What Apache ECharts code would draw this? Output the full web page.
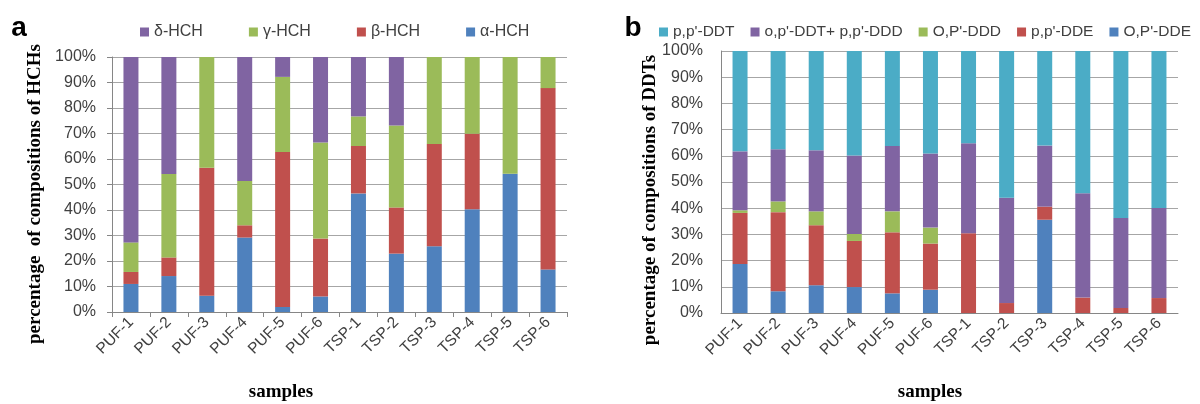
<!DOCTYPE html>
<html><head><meta charset="utf-8">
<script src="https://cdn.jsdelivr.net/npm/echarts@6/dist/echarts.min.js"></script>
<style>html,body{margin:0;padding:0;background:#fff}#c{width:1200px;height:404px}</style>
</head><body><div id="c"></div>
<script>
const samples = ['PUF-1','PUF-2','PUF-3','PUF-4','PUF-5','PUF-6','TSP-1','TSP-2','TSP-3','TSP-4','TSP-5','TSP-6'];
const yTicks = [0,10,20,30,40,50,60,70,80,90,100];

// HCH composition (%)
const alphaHCH = [11.0,14.1,6.4,29.2,2.0,6.1,46.5,22.9,25.8,40.3,54.2,16.7];
const betaHCH  = [4.7,7.3,50.2,4.8,60.7,22.7,18.6,18.1,40.1,29.6,0,71.1];
const gammaHCH = [11.6,32.7,43.4,17.4,29.5,37.7,11.6,32.1,34.1,30.1,45.8,12.2];
const deltaHCH = [72.7,45.9,0,48.6,7.8,33.5,23.3,26.9,0,0,0,0];

// DDT composition (%)
const opDDE = [18.7,8.3,10.6,9.9,7.5,8.9,0,0,35.6,0,0,0];
const ppDDE = [19.5,30.2,22.9,17.6,23.3,17.6,30.4,3.8,5.0,5.9,1.9,5.7];
const opDDD = [1.0,4.1,5.3,2.7,8.0,6.1,0,0,0,0,0,0];
const opDDTppDDD = [22.5,19.9,23.3,29.9,24.9,28.3,34.4,40.2,23.3,39.8,34.4,34.4];
const ppDDT = [38.3,37.5,37.9,39.9,36.3,39.1,35.2,56.0,36.1,54.3,63.7,59.9];

const C = {blue:'#4F81BD', red:'#C0504D', green:'#9BBB59', purple:'#8064A2', cyan:'#4BACC6'};
const txt = '#404040';
const sans = 'Liberation Sans';

function xAx(gi, ticks){
  return {type:'category', gridIndex:gi, data:samples,
    axisLine:{lineStyle:{color:'#868686'}},
    axisTick:{show:ticks, length:5, lineStyle:{color:'#868686'}},
    axisLabel:{rotate:45, color:txt, fontFamily:sans, fontSize:15.5, margin:8, interval:0}};
}
function yAx(gi, ticks){
  return {type:'value', gridIndex:gi, min:0, max:100, interval:10,
    axisLine:{show:true, lineStyle:{color:'#868686'}},
    axisTick:{show:ticks, length:5, lineStyle:{color:'#868686'}},
    splitLine:{lineStyle:{color:'#A6A6A6'}},
    axisLabel:{formatter:'{value}%', color:txt, fontFamily:sans, fontSize:16, margin:ticks?16:18}};
}
function bar(name, data, color, gi, stack){
  return {name, type:'bar', stack, data, xAxisIndex:gi, yAxisIndex:gi,
    barWidth:15, itemStyle:{color}, emphasis:{disabled:true}};
}

const chart = echarts.init(document.getElementById('c'), null, {renderer:'canvas'});
chart.setOption({
  animation:false,
  grid:[
    {left:112, right:633, top:57, bottom:92},
    {left:721, right:22, top:51, bottom:91}
  ],
  legend:[
    {data:['δ-HCH','γ-HCH','β-HCH','α-HCH'], left:135, top:19, icon:'rect', itemWidth:9, itemHeight:9, itemGap:46,
     textStyle:{color:txt, fontFamily:sans, fontSize:16}, selectedMode:false},
    {data:["p,p'-DDT","o,p'-DDT+ p,p'-DDD","O,P'-DDD","p,p'-DDE","O,P'-DDE"], left:654, top:19, icon:'rect', itemWidth:9, itemHeight:9, itemGap:16,
     textStyle:{color:txt, fontFamily:sans, fontSize:15.5}, selectedMode:false}
  ],
  xAxis:[xAx(0,true), xAx(1,false)],
  yAxis:[yAx(0,true), yAx(1,false)],
  series:[
    bar('α-HCH', alphaHCH, C.blue, 0, 'h'),
    bar('β-HCH', betaHCH, C.red, 0, 'h'),
    bar('γ-HCH', gammaHCH, C.green, 0, 'h'),
    bar('δ-HCH', deltaHCH, C.purple, 0, 'h'),
    bar("O,P'-DDE", opDDE, C.blue, 1, 'd'),
    bar("p,p'-DDE", ppDDE, C.red, 1, 'd'),
    bar("O,P'-DDD", opDDD, C.green, 1, 'd'),
    bar("o,p'-DDT+ p,p'-DDD", opDDTppDDD, C.purple, 1, 'd'),
    bar("p,p'-DDT", ppDDT, C.cyan, 1, 'd')
  ],
  graphic:[
    {type:'text', x:19, y:28, style:{text:'a', font:'bold 28px "Liberation Sans"', fill:'#000', align:'center', verticalAlign:'middle'}},
    {type:'text', x:633, y:28, style:{text:'b', font:'bold 28px "Liberation Sans"', fill:'#000', align:'center', verticalAlign:'middle'}},
    {type:'text', x:35, y:194, rotation:Math.PI/2, style:{text:'percentage  of compositions of HCHs', font:'bold 19px "Liberation Serif"', fill:'#000', align:'center', verticalAlign:'middle'}},
    {type:'text', x:650, y:200, rotation:Math.PI/2, style:{text:'percentage of compositions of DDTs', font:'bold 19px "Liberation Serif"', fill:'#000', align:'center', verticalAlign:'middle'}},
    {type:'text', x:281, y:392, style:{text:'samples', font:'bold 19px "Liberation Serif"', fill:'#000', align:'center', verticalAlign:'middle'}},
    {type:'text', x:930, y:392, style:{text:'samples', font:'bold 19px "Liberation Serif"', fill:'#000', align:'center', verticalAlign:'middle'}}
  ]
});
</script></body></html>
